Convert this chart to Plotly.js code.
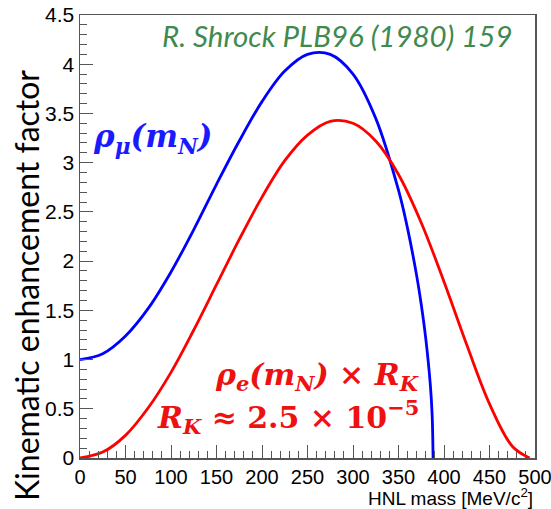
<!DOCTYPE html>
<html>
<head>
<meta charset="utf-8">
<script src="https://cdn.plot.ly/plotly-3.0.1.min.js"></script>
<style>html,body{margin:0;padding:0;background:#fff;}#chart{width:551px;height:509px;}</style>
</head>
<body>
<div id="chart"></div>
<script>
// HNL mass [MeV/c^2] and kinematic enhancement factor
const blueMass = [0, 25, 50, 75, 100, 125, 150, 175, 200, 225, 250, 275, 300, 325, 350, 360, 370, 375, 380, 385, 387, 388];
const blueRho  = [1.00, 1.06, 1.24, 1.52, 1.89, 2.32, 2.78, 3.22, 3.62, 3.93, 4.10, 4.10, 3.90, 3.45, 2.72, 2.33, 1.85, 1.56, 1.21, 0.74, 0.43, 0.0];
const redMass  = [0, 25, 50, 75, 100, 125, 150, 175, 200, 225, 250, 275, 300, 325, 350, 375, 400, 425, 450, 475, 494];
const redRho   = [0, 0.06, 0.23, 0.51, 0.87, 1.30, 1.76, 2.22, 2.65, 3.02, 3.28, 3.42, 3.40, 3.22, 2.88, 2.39, 1.79, 1.15, 0.55, 0.12, 0];

const xTitle = "HNL mass [MeV/c<sup>2</sup>]";
const yTitle = "Kinematic enhancement factor";
const refText = "R. Shrock PLB96 (1980) 159";

const axisCol = "#555";
const tickFont = {family: "Liberation Sans, Arial, sans-serif", size: 21, color: "#000"};
const xTickFont = {family: "Liberation Sans, Arial, sans-serif", size: 20, color: "#000"};
const mathFont = "DejaVu Serif, serif";

const traces = [
  {x: blueMass, y: blueRho, type: "scatter", mode: "lines",
   line: {color: "#0000ff", width: 2.8, shape: "spline", smoothing: 1}, hoverinfo: "none"},
  {x: redMass, y: redRho, type: "scatter", mode: "lines",
   line: {color: "#ff0000", width: 2.8, shape: "spline", smoothing: 1}, hoverinfo: "none"}
];

const layout = {
  width: 551, height: 509,
  margin: {l: 80, r: 16, t: 15, b: 51},
  paper_bgcolor: "#fff", plot_bgcolor: "#fff",
  showlegend: false,
  xaxis: {
    range: [0, 500], dtick: 50, tick0: 0, showgrid: false, zeroline: false,
    ticks: "inside", ticklen: 13, tickwidth: 1, tickcolor: axisCol,
    minor: {dtick: 10, ticks: "inside", ticklen: 7, tickcolor: axisCol, showgrid: false},
    showline: true, linecolor: axisCol, linewidth: 1.5, mirror: true,
    tickfont: xTickFont, ticklabeloverflow: "allow", fixedrange: true
  },
  yaxis: {
    range: [0, 4.5], dtick: 0.5, tick0: 0, showgrid: false, zeroline: false,
    ticks: "inside", ticklen: 13, tickwidth: 1, tickcolor: axisCol,
    minor: {dtick: 0.1, ticks: "inside", ticklen: 7, tickcolor: axisCol, showgrid: false},
    showline: true, linecolor: axisCol, linewidth: 1.5, mirror: true,
    tickfont: tickFont, ticklabeloverflow: "allow", fixedrange: true
  },
  annotations: [
    {xref: "paper", yref: "paper", x: 1.0, y: -0.088, xanchor: "right", yanchor: "middle",
     text: xTitle, showarrow: false,
     font: {family: "Liberation Sans, Arial, sans-serif", size: 19, color: "#000"}},
    {xref: "paper", yref: "paper", x: -0.119, y: 0.39, xanchor: "center", yanchor: "middle",
     text: yTitle, showarrow: false, textangle: -90,
     font: {family: "Lato, sans-serif", size: 32, color: "#000"}},
    {xref: "paper", yref: "paper", x: 0.957, y: 0.953, xanchor: "right", yanchor: "middle",
     text: "<i>" + refText + "</i>", showarrow: false,
     font: {family: "Lato, sans-serif", size: 29.5, color: "#3f8a4f"}},
    {xref: "paper", yref: "paper", x: 0.024, y: 0.722, xanchor: "left", yanchor: "middle",
     text: "<b><i>ρ<sub>μ</sub>(m<sub>N</sub>)</i></b>", showarrow: false,
     font: {family: mathFont, size: 31, color: "#1a1aff"}},
    {xref: "paper", yref: "paper", x: 0.749, y: 0.184, xanchor: "right", yanchor: "middle",
     text: "<b><i>ρ<sub>e</sub>(m<sub>N</sub>)</i> × <i>R<sub>K</sub></i></b>", showarrow: false,
     font: {family: mathFont, size: 30, color: "#ee1111"}},
    {xref: "paper", yref: "paper", x: 0.749, y: 0.092, xanchor: "right", yanchor: "middle",
     text: "<b><i>R<sub>K</sub></i> ≈ 2.5 × 10<sup>−5</sup></b>", showarrow: false,
     font: {family: mathFont, size: 30, color: "#ee1111"}}
  ]
};

Plotly.newPlot("chart", traces, layout, {staticPlot: true, displayModeBar: false});
</script>
</body>
</html>
